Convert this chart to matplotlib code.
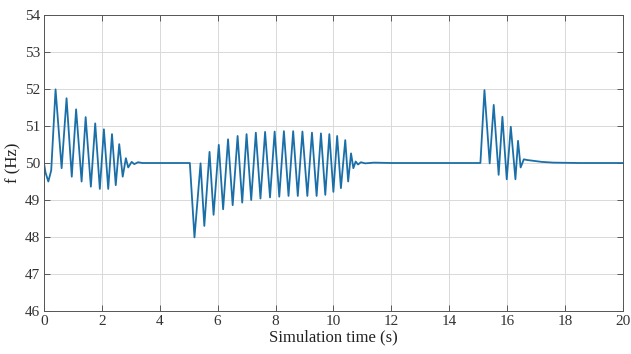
import matplotlib
matplotlib.use("Agg")
import matplotlib.pyplot as plt

# Key points (time in s, frequency in Hz)
t_pts = [0.00, 0.05, 0.15, 0.25, 0.40, 0.61, 0.78, 0.96, 1.11, 1.30, 1.44, 1.62, 1.77, 1.93,
         2.07, 2.22, 2.35, 2.48, 2.60, 2.72, 2.83, 2.91, 3.03, 3.12, 3.25, 3.40, 3.60, 4.00, 4.50, 5.04,
         5.20, 5.41, 5.54, 5.72, 5.86, 6.04, 6.19, 6.36, 6.52, 6.69, 6.85, 7.00, 7.16, 7.32,
         7.48, 7.64, 7.81, 7.97, 8.13, 8.29, 8.45, 8.61, 8.77, 8.93, 9.10, 9.26, 9.42, 9.57,
         9.72, 9.86, 10.00, 10.13, 10.26, 10.41, 10.51, 10.61, 10.69, 10.77, 10.85, 10.95, 11.10,
         11.40, 12.00, 13.00, 14.00, 15.08,
         15.22, 15.40, 15.54, 15.71, 15.84, 15.99, 16.13, 16.29, 16.38, 16.47, 16.58, 16.70,
         16.90, 17.20, 17.60, 18.50, 20.00]
f_pts = [50.00, 49.75, 49.50, 49.80, 51.99, 49.86, 51.75, 49.63, 51.45, 49.50, 51.24, 49.36, 51.07, 49.30,
         50.91, 49.30, 50.78, 49.40, 50.51, 49.63, 50.13, 49.88, 50.03, 49.97, 50.02, 50.00, 50.00, 50.00, 50.00, 50.00,
         47.99, 49.99, 48.30, 50.30, 48.60, 50.49, 48.75, 50.64, 48.86, 50.73, 48.93, 50.78, 49.00, 50.82,
         49.04, 50.84, 49.07, 50.85, 49.09, 50.86, 49.11, 50.86, 49.11, 50.85, 49.11, 50.82, 49.11, 50.80,
         49.14, 50.78, 49.22, 50.73, 49.32, 50.62, 49.50, 50.26, 49.86, 50.04, 49.96, 50.02, 49.99,
         50.01, 50.00, 50.00, 50.00, 50.00,
         51.97, 49.99, 51.57, 49.68, 51.25, 49.56, 50.98, 49.56, 50.60, 49.88, 50.10, 50.08,
         50.06, 50.03, 50.01, 50.00, 50.00]

x_ticks = [0, 2, 4, 6, 8, 10, 12, 14, 16, 18, 20]
y_ticks = [46, 47, 48, 49, 50, 51, 52, 53, 54]

plt.rcParams['font.family'] = ['Liberation Serif', 'DejaVu Serif']
plt.rcParams['mathtext.fontset'] = 'stix'

fig = plt.figure(figsize=(6.31, 3.54), dpi=100)
ax = fig.add_axes([0.0697, 0.1215, 0.9173, 0.8361])

ax.plot(t_pts, f_pts, color='#1A6FA8', linewidth=1.3)

ax.set_xlim(0, 20)
ax.set_ylim(46, 54)
ax.set_xticks(x_ticks)
ax.set_yticks(y_ticks)
ax.set_xticklabels([str(v) for v in x_ticks], fontsize=11, color='#333333')
ax.set_yticklabels([str(v) for v in y_ticks], fontsize=11, color='#333333')
ax.tick_params(direction='in', length=4, width=0.6, color='#444444', top=True, right=True, pad=3)
ax.grid(True, color='#d9d9d9', linewidth=0.7)
ax.set_axisbelow(True)
for s in ax.spines.values():
    s.set_color('#555555')
    s.set_linewidth(0.7)

ax.set_xlabel('Simulation time (s)', fontsize=12, color='#222222', labelpad=1)
ax.set_ylabel('f (Hz)', fontsize=12, color='#222222', labelpad=2)

fig.savefig('out.png', dpi=100)
